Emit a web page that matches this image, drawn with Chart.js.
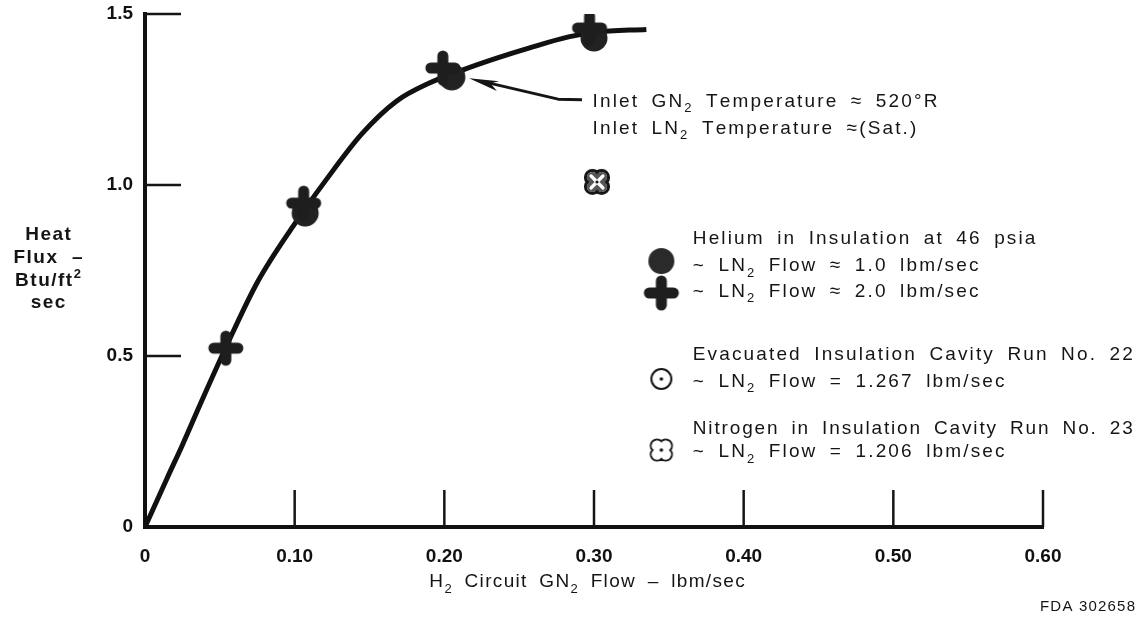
<!DOCTYPE html>
<html>
<head>
<meta charset="utf-8">
<script src="https://cdn.jsdelivr.net/npm/chart.js@4.4.1/dist/chart.umd.min.js"></script>
<style>
html,body{margin:0;padding:0;background:#fff;}
#wrap{width:1140px;height:618px;position:relative;}
</style>
</head>
<body>
<div id="wrap"><canvas id="c" width="1140" height="618"></canvas></div>
<script>
// ---------- data ----------
const xTicks = [0, 0.1, 0.2, 0.3, 0.4, 0.5, 0.6];
const xTickLabels = ['0', '0.10', '0.20', '0.30', '0.40', '0.50', '0.60'];
const yTicks = [0, 0.5, 1.0, 1.5];
const yTickLabels = ['0', '0.5', '1.0', '1.5'];

// faired curve through the data
const curveX = [0, 0.015, 0.025, 0.038, 0.054, 0.075, 0.099, 0.121, 0.145, 0.168, 0.190, 0.212, 0.235, 0.257, 0.283, 0.301, 0.335];
const curveY = [0, 0.145, 0.24, 0.37, 0.525, 0.715, 0.88, 1.015, 1.15, 1.245, 1.298, 1.336, 1.371, 1.401, 1.433, 1.447, 1.455];

// Helium in insulation at 46 psia, LN2 flow ~1.0 lbm/sec (filled circle)
const heliumLowX = [0.107, 0.205, 0.300];
const heliumLowY = [0.918, 1.316, 1.430];
// Helium in insulation at 46 psia, LN2 flow ~2.0 lbm/sec (plus)
const heliumHighX = [0.054, 0.106, 0.199, 0.297];
const heliumHighY = [0.523, 0.947, 1.342, 1.459];
// Evacuated insulation cavity, run 22 (no point visible)
const evacuatedX = [];
const evacuatedY = [];
// Nitrogen in insulation cavity, run 23
const nitrogenX = [0.302];
const nitrogenY = [1.009];

const pts = (xs, ys) => xs.map((x, i) => ({x, y: ys[i]}));

// ---------- marker images ----------
const INK = '#151515';
function makeCanvas(size, fn) {
  const c = document.createElement('canvas');
  c.width = c.height = size;
  fn(c.getContext('2d'), size / 2);
  return c;
}
const circleImg = makeCanvas(30, (g, c) => {
  g.fillStyle = '#222'; g.beginPath(); g.arc(c, c, 13.5, 0, Math.PI * 2); g.fill();
});
const circleLegImg = makeCanvas(30, (g, c) => {
  g.fillStyle = '#2a2a2a'; g.beginPath(); g.arc(c, c, 13, 0, Math.PI * 2); g.fill();
});
const plusImg = makeCanvas(38, (g, c) => {
  g.strokeStyle = '#1e1e1e'; g.lineWidth = 11; g.lineCap = 'round';
  g.beginPath(); g.moveTo(c - 12, c); g.lineTo(c + 12, c); g.moveTo(c, c - 12); g.lineTo(c, c + 12); g.stroke();
});
const dottedImg = makeCanvas(26, (g, c) => {
  g.strokeStyle = INK; g.lineWidth = 2;
  g.beginPath(); g.arc(c, c, 10, 0, Math.PI * 2); g.stroke();
  g.fillStyle = INK; g.beginPath(); g.arc(c, c, 1.8, 0, Math.PI * 2); g.fill();
});
function foilPath(g, c, d, r) {
  const offs = [[-1, -1], [1, -1], [1, 1], [-1, 1]];
  offs.forEach(([a, b]) => { g.moveTo(c + a * d + r, c + b * d); g.arc(c + a * d, c + b * d, r, 0, Math.PI * 2); });
}
const quatLegImg = makeCanvas(28, (g, c) => {
  const d = 4.3, r = 6.3, w = 2;
  g.strokeStyle = INK; g.lineWidth = w;
  g.beginPath(); foilPath(g, c, d, r); g.stroke();
  g.fillStyle = '#fff'; g.beginPath(); foilPath(g, c, d, r - w / 2); g.fill();
  g.fillStyle = INK; g.beginPath(); g.arc(c, c, 1.8, 0, Math.PI * 2); g.fill();
});
const quatPlotImg = makeCanvas(30, (g, c) => {
  const d = 4.6, r = 7, w = 3;
  g.strokeStyle = INK; g.lineWidth = w;
  g.beginPath(); foilPath(g, c, d, r); g.stroke();
  g.fillStyle = '#555'; g.beginPath(); foilPath(g, c, d, r - w / 2); g.fill();
  g.strokeStyle = '#fff'; g.lineWidth = 3.2; g.lineCap = 'round';
  g.beginPath(); g.moveTo(c - 6, c - 6); g.lineTo(c + 6, c + 6); g.moveTo(c + 6, c - 6); g.lineTo(c - 6, c + 6); g.stroke();
  g.fillStyle = INK; g.beginPath(); g.arc(c, c, 1.6, 0, Math.PI * 2); g.fill();
});

// ---------- text helpers (glyph-by-glyph, explicit spacing) ----------
const FONT = '"Liberation Sans", Arial, Helvetica, sans-serif';
const fontFor = (o, m) => `${o.weight || 'normal'} ${m ? Math.round(o.size * 0.68) : o.size}px ${FONT}`;
function layout(ctx, parts, o) {
  const ls = o.ls || 0, ws = o.ws || 0, glyphs = [];
  let w = 0;
  parts.forEach(([t, m]) => {
    ctx.font = fontFor(o, m);
    for (const ch of t) {
      glyphs.push({ch, m, x: w});
      w += ctx.measureText(ch).width + ls + (ch === ' ' ? ws : 0);
    }
  });
  return {glyphs, width: w - ls};
}
// letter spacing that makes a given line span a target width
function fitSpacing(ctx, parts, o, target) {
  const base = layout(ctx, parts, Object.assign({}, o, {ls: 0})).width;
  const n = parts.reduce((a, [t]) => a + [...t].length, 0);
  return (target - base) / Math.max(1, n - 1);
}
function drawRich(ctx, parts, x, y, o) {
  ctx.save();
  ctx.fillStyle = o.color || INK;
  ctx.textBaseline = 'alphabetic';
  ctx.textAlign = 'left';
  const L = layout(ctx, parts, o);
  const x0 = o.align === 'center' ? x - L.width / 2 : o.align === 'right' ? x - L.width : x;
  const base = y + o.size * 0.358;
  L.glyphs.forEach(g => {
    ctx.font = fontFor(o, g.m);
    const dy = g.m === 1 ? o.size * 0.3 : g.m === 2 ? -o.size * 0.42 : 0;
    ctx.fillText(g.ch, x0 + g.x, base + dy);
  });
  ctx.restore();
}

// annotation layout (data units of the chart's scales)
const legendTextX = 0.366, legendMarkX = 0.345;
const legendLines = [
  {y: 0.848, parts: [['Helium in Insulation at 46 psia', 0]]},
  {y: 0.769, parts: [['~ LN', 0], ['2', 1], [' Flow \u2248 1.0 lbm/sec', 0]], mark: circleLegImg, mdy: -3},
  {y: 0.693, parts: [['~ LN', 0], ['2', 1], [' Flow \u2248 2.0 lbm/sec', 0]], mark: plusImg, mdy: 3},
  {y: 0.509, parts: [['Evacuated Insulation Cavity Run No. 22', 0]], fit: 440},
  {y: 0.430, parts: [['~ LN', 0], ['2', 1], [' Flow = 1.267 lbm/sec', 0]], mark: dottedImg, mdy: -1},
  {y: 0.292, parts: [['Nitrogen in Insulation Cavity Run No. 23', 0]], fit: 440},
  {y: 0.225, parts: [['~ LN', 0], ['2', 1], [' Flow = 1.206 lbm/sec', 0]], mark: quatLegImg, mdy: 0}
];
const inletX = 0.299;
const inletLines = [
  {y: 1.249, parts: [['Inlet GN', 0], ['2', 1], [' Temperature \u2248 520\u00B0R', 0]]},
  {y: 1.170, parts: [['Inlet LN', 0], ['2', 1], [' Temperature \u2248(Sat.)', 0]]}
];
const arrowPath = [[0.292, 1.249], [0.276, 1.251], [0.2165, 1.312]];

const decor = {
  id: 'decor',
  beforeDraw(chart) {
    const ctx = chart.ctx;
    ctx.save(); ctx.fillStyle = '#fff'; ctx.fillRect(0, 0, chart.width, chart.height); ctx.restore();
  },
  afterDraw(chart) {
    const ctx = chart.ctx, xs = chart.scales.x, ys = chart.scales.y;
    const X = v => xs.getPixelForValue(v), Y = v => ys.getPixelForValue(v);

    // inward tick marks
    ctx.save();
    ctx.strokeStyle = INK; ctx.lineWidth = 2.5; ctx.lineCap = 'butt';
    ys.ticks.forEach(t => { if (t.value > 0) { ctx.beginPath(); ctx.moveTo(xs.left, Y(t.value)); ctx.lineTo(xs.left + 36, Y(t.value)); ctx.stroke(); } });
    xs.ticks.forEach(t => { if (t.value > 0) { ctx.beginPath(); ctx.moveTo(X(t.value), ys.bottom); ctx.lineTo(X(t.value), ys.bottom - 37); ctx.stroke(); } });
    ctx.restore();

    // text styles, spacing calibrated to the reference line lengths
    const TXT = {size: 19, ws: 5};
    TXT.ls = fitSpacing(ctx, legendLines[3].parts, TXT, 440);
    const XT = {size: 19, ws: 5, align: 'center'};
    XT.ls = fitSpacing(ctx, [['H2 Circuit GN2 Flow \u2013 lbm/sec', 0]], XT, 322);
    const YT = {size: 19, weight: 'bold', align: 'center', ls: 1.5};
    const FT = {size: 15, align: 'right'};
    FT.ls = fitSpacing(ctx, [['FDA 302658', 0]], FT, 95);

    // y-axis title (stacked)
    const yt = [[['Heat', 0]], [['Flux  \u2013', 0]], [['Btu/ft', 0], ['2', 2]], [['sec', 0]]];
    const ytY = [233, 256, 279, 301];
    yt.forEach((p, i) => drawRich(ctx, p, 48, ytY[i], YT));

    // x-axis title
    drawRich(ctx, [['H', 0], ['2', 1], [' Circuit GN', 0], ['2', 1], [' Flow \u2013 lbm/sec', 0]], 587, 580, XT);

    // inlet temperature note + arrow
    inletLines.forEach(l => drawRich(ctx, l.parts, X(inletX), Y(l.y), TXT));
    ctx.save();
    ctx.strokeStyle = INK; ctx.fillStyle = INK; ctx.lineWidth = 3; ctx.lineJoin = 'round';
    const ap = arrowPath.map(([a, b]) => [X(a), Y(b)]);
    const tip = ap[ap.length - 1], prev = ap[ap.length - 2];
    const dx = prev[0] - tip[0], dy = prev[1] - tip[1], L = Math.hypot(dx, dy), ux = dx / L, uy = dy / L;
    ctx.beginPath(); ctx.moveTo(ap[0][0], ap[0][1]);
    for (let i = 1; i < ap.length - 1; i++) ctx.lineTo(ap[i][0], ap[i][1]);
    ctx.lineTo(tip[0] + ux * 20, tip[1] + uy * 20); ctx.stroke();
    const bx = tip[0] + ux * 30, by = tip[1] + uy * 30;
    ctx.beginPath(); ctx.moveTo(tip[0], tip[1]);
    ctx.lineTo(bx - uy * 6, by + ux * 6);
    ctx.lineTo(tip[0] + ux * 22, tip[1] + uy * 22);
    ctx.lineTo(bx + uy * 4, by - ux * 4);
    ctx.closePath(); ctx.fill();
    ctx.restore();

    // legend block
    legendLines.forEach(l => {
      const st = l.fit ? Object.assign({}, TXT, {ls: fitSpacing(ctx, l.parts, TXT, l.fit)}) : TXT;
      drawRich(ctx, l.parts, X(legendTextX), Y(l.y), st);
      if (l.mark) ctx.drawImage(l.mark, X(legendMarkX) - l.mark.width / 2, Y(l.y) - l.mark.height / 2 + l.mdy);
    });

    // figure number
    drawRich(ctx, [['FDA 302658', 0]], 1135, 606, FT);
  }
};

new Chart(document.getElementById('c'), {
  type: 'scatter',
  data: {
    datasets: [
      {label: 'Curve', type: 'line', data: pts(curveX, curveY), showLine: true, borderColor: '#111', borderWidth: 5,
        pointRadius: 0, fill: false, cubicInterpolationMode: 'monotone', order: 10},
      {label: 'Helium 46 psia, LN2 1.0 lbm/sec', data: pts(heliumLowX, heliumLowY), pointStyle: circleImg, order: 2},
      {label: 'Helium 46 psia, LN2 2.0 lbm/sec', data: pts(heliumHighX, heliumHighY), pointStyle: plusImg, order: 1},
      {label: 'Evacuated Run No. 22', data: pts(evacuatedX, evacuatedY), pointStyle: dottedImg, order: 3},
      {label: 'Nitrogen Run No. 23', data: pts(nitrogenX, nitrogenY), pointStyle: quatPlotImg, order: 3}
    ]
  },
  options: {
    responsive: false,
    animation: false,
    devicePixelRatio: 1,
    layout: {padding: {top: 14, right: 97, bottom: 0, left: 0}},
    plugins: {legend: {display: false}, tooltip: {enabled: false}},
    scales: {
      x: {
        type: 'linear', min: 0, max: 0.6,
        afterBuildTicks: s => { s.ticks = xTicks.map(v => ({value: v})); },
        afterFit: s => { s.height = 91; s.paddingLeft = 0; s.paddingRight = 0; },
        grid: {display: false},
        border: {display: true, width: 4, color: '#111'},
        ticks: {callback: (v, i) => xTickLabels[i], autoSkip: false, maxRotation: 0, padding: 10,
          color: '#111', font: {family: FONT, size: 19, weight: 'bold'}}
      },
      y: {
        type: 'linear', min: 0, max: 1.5,
        afterBuildTicks: s => { s.ticks = yTicks.map(v => ({value: v})); },
        afterFit: s => { s.width = 145; s.paddingTop = 0; s.paddingBottom = 0; },
        grid: {display: false},
        border: {display: true, width: 4, color: '#111'},
        ticks: {callback: (v, i) => yTickLabels[i], padding: 4,
          color: '#111', font: {family: FONT, size: 19, weight: 'bold'}}
      }
    }
  },
  plugins: [decor]
});
</script>
</body>
</html>
